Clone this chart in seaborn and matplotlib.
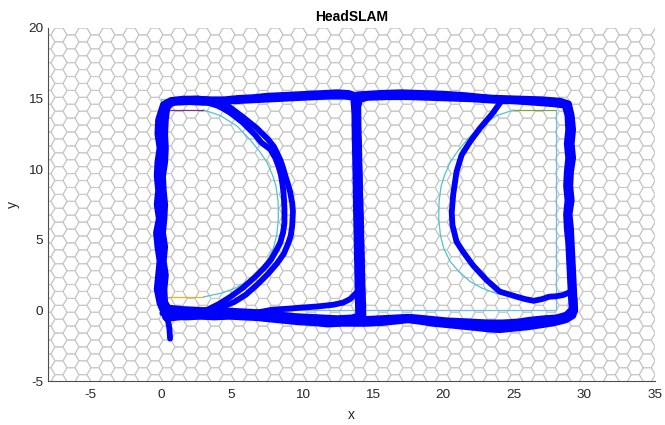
import numpy as np
import pandas as pd
import matplotlib
matplotlib.use("Agg")
import matplotlib.pyplot as plt
import seaborn as sns
from matplotlib.collections import LineCollection

# ---------------- data ----------------
title = "HeadSLAM"
x_ticks = [-5, 0, 5, 10, 15, 20, 25, 30, 35]
y_ticks = [-5, 0, 5, 10, 15, 20]
x_lim = (-8, 35)
y_lim = (-5, 20)

# pass 1: start tail, left edge up, top-left edge, middle down, bottom-left back
p1_x = [0.65, 0.6, 0.5, 0.35,
        0.3, 0.25, 0.35, 0.2, 0.3, 0.15, 0.25, 0.3, 0.2, 0.15, 0.3, 0.35, 0.3, 0.35, 0.45, 0.8,
        1.5, 2.5, 3.5, 4.5, 5.5, 6.5, 7.5, 8.5, 9.5, 10.5, 11.5, 12.5, 13.3, 13.6,
        13.7, 13.72, 13.75, 13.78, 13.8, 13.83, 13.86, 13.89, 13.92, 13.95, 13.98,
        13.3, 12.3, 11.3, 10.3, 9.3, 8.3, 7.3, 6.3, 5.3, 4.3, 3.3, 2.3, 1.3, 0.5]
p1_y = [-2.0, -1.3, -0.7, -0.2,
        0.5, 1.5, 2.5, 3.5, 4.5, 5.5, 6.5, 7.5, 8.5, 9.5, 10.5, 11.5, 12.5, 13.5, 14.3, 14.75,
        14.95, 15.0, 14.95, 14.95, 15.05, 15.1, 15.2, 15.25, 15.3, 15.35, 15.4, 15.45, 15.4, 15.3,
        14.0, 12.5, 11.0, 9.5, 8.0, 6.5, 5.0, 3.5, 2.0, 0.5, -0.55,
        -0.7, -0.72, -0.7, -0.65, -0.6, -0.5, -0.4, -0.35, -0.3, -0.3, -0.25, -0.2, -0.2, 0.1]

# pass 2: inner left D loop, back along the top and down the left edge
p2_x = [0.3, 1.0, 1.8, 2.6, 3.3, 4.1, 4.9, 5.8, 6.6, 7.3, 7.8, 8.2, 8.45, 8.65, 8.75, 8.75, 8.72, 8.68, 8.6, 8.5, 8.33, 8.1,
        7.75, 7.1, 6.7, 6.2, 5.8, 5.3, 4.9, 4.4, 4.0, 3.2, 2.3, 1.4, 0.6, 0.2, 0.0, -0.1, 0.05, 0.0, -0.15, -0.05,
        0.1, 0.0, -0.2, -0.1, 0.0, 0.1, -0.1, 0.0, 0.3]
p2_y = [-0.4, -0.3, -0.2, -0.1, 0.05, 0.45, 0.95, 1.6, 2.3, 3.0, 3.6, 4.3, 4.8, 5.5, 6.2, 7.2, 7.8, 8.4, 9.0, 9.6, 10.2, 10.8,
        11.4, 11.9, 12.4, 12.9, 13.3, 13.7, 14.0, 14.3, 14.5, 14.75, 14.85, 14.85, 14.75, 14.4, 13.3, 12.3, 11.3, 10.3, 9.3, 8.3,
        7.3, 6.3, 5.3, 4.3, 3.3, 2.3, 1.3, 0.3, -0.4]

# pass 3: outer left D loop
p3_x = [0.4, 1.3, 2.3, 3.2, 3.9, 4.6, 5.2, 6.0, 6.9, 7.6, 8.2, 8.7, 9.0, 9.2, 9.3, 9.35, 9.3, 9.15, 8.98, 8.82, 8.65, 8.48,
        8.25, 8.0, 7.6, 7.2, 6.8, 6.3, 5.8, 5.4, 5.0, 4.6, 3.6, 2.6, 1.6, 0.7, 0.15, -0.2, -0.25, -0.1, -0.25, -0.3,
        -0.2, -0.3, -0.15, -0.35, -0.25, -0.1, -0.2, -0.3, -0.1, 0.4]
p3_y = [-0.6, -0.5, -0.35, -0.2, 0.05, 0.35, 0.6, 1.1, 1.9, 2.6, 3.3, 4.0, 4.7, 5.3, 6.0, 7.0, 7.6, 8.4, 9.0, 9.5, 10.1, 10.6,
        11.1, 11.6, 12.1, 12.5, 12.9, 13.3, 13.7, 14.0, 14.3, 14.6, 14.9, 15.0, 15.0, 14.9, 14.6, 13.5, 12.5, 11.5, 10.5, 9.5,
        8.5, 7.5, 6.5, 5.5, 4.5, 3.5, 2.5, 1.5, 0.5, -0.6]

# pass 4: lower link to the middle, up, right rectangle clockwise
p4_x = [0.3, 1.5, 3.0, 4.2, 5.2, 6.3, 7.1, 7.9, 9.0, 10.0, 11.1, 12.2, 12.9, 13.4, 13.8, 14.15,
        14.12, 14.08, 14.04, 14.0, 13.96, 13.92, 13.88, 13.85, 13.85, 14.1,
        15.0, 16.5, 18.0, 19.5, 21.0, 22.5, 24.0, 25.5, 27.0, 28.3, 28.9,
        29.1, 29.2, 29.1, 29.2, 29.05, 29.0, 29.1, 28.95, 29.05, 29.1, 29.15, 29.2, 29.25, 29.3, 29.3,
        29.1, 28.6, 27.8, 27.0, 26.0, 25.0, 24.0, 23.2, 22.3, 21.3, 20.3, 19.3, 18.3, 17.5, 16.6, 15.6, 14.8, 14.3, 14.2]
p4_y = [-0.5, -0.45, -0.4, -0.35, -0.3, -0.2, -0.1, 0.05, 0.12, 0.2, 0.28, 0.4, 0.55, 0.8, 1.2, 1.6,
        3.0, 4.5, 6.0, 7.5, 9.0, 10.5, 12.0, 13.5, 14.7, 15.1,
        15.25, 15.3, 15.3, 15.25, 15.2, 15.1, 15.05, 15.0, 14.95, 14.85, 14.65,
        13.8, 12.8, 11.8, 10.8, 9.8, 8.8, 7.8, 6.8, 5.8, 4.8, 3.8, 2.8, 1.8, 0.8, 0.0,
        -0.4, -0.6, -0.75, -0.85, -1.0, -1.1, -1.15, -1.15, -1.1, -1.0, -0.9, -0.8, -0.65, -0.6, -0.7, -0.75, -0.75, -0.7, -0.2]

# pass 5: second right rectangle loop, then bottom-left back to start corner
p5_x = [14.35, 14.32, 14.28, 14.25, 14.21, 14.18, 14.14, 14.1, 14.07, 14.04, 14.0, 13.98, 14.1,
        14.6, 16.0, 17.5, 19.0, 20.5, 22.0, 23.5, 25.0, 26.5, 27.8, 28.6,
        28.8, 28.85, 28.75, 28.85, 28.75, 28.7, 28.8, 28.7, 28.75, 28.85, 28.9, 28.95, 29.0, 29.05, 29.1,
        28.7, 28.0, 27.2, 26.2, 25.2, 24.2, 23.2, 22.2, 21.2, 20.2, 19.2, 18.2, 17.5, 16.6, 15.6, 14.6,
        13.8, 12.8, 11.8, 10.8, 9.8, 8.8, 7.8, 6.8, 5.8, 4.8, 3.8, 2.8, 1.8, 0.8, 0.2]
p5_y = [-0.6, 0.5, 1.8, 3.2, 4.6, 6.0, 7.4, 8.8, 10.2, 11.6, 13.0, 14.4, 14.9,
        15.05, 15.1, 15.1, 15.05, 15.0, 14.95, 14.85, 14.8, 14.7, 14.6, 14.5,
        13.8, 12.8, 11.8, 10.8, 9.8, 8.8, 7.8, 6.8, 5.8, 4.8, 3.8, 2.8, 1.8, 0.8, 0.1,
        -0.3, -0.5, -0.55, -0.65, -0.8, -0.85, -0.85, -0.8, -0.75, -0.7, -0.6, -0.5, -0.45, -0.5, -0.55, -0.6,
        -0.75, -0.8, -0.8, -0.7, -0.6, -0.5, -0.45, -0.35, -0.3, -0.25, -0.3, -0.2, -0.25, -0.2, 0.1]

# pass 6: right D loop and long bottom return
p6_x = [13.9, 15.5, 17.0, 18.5, 20.0, 21.5, 23.0, 24.2,
        23.5, 22.6, 21.9, 21.3, 20.94, 20.7, 20.6, 20.65, 20.94, 21.4, 22.1, 23.07, 24.0, 25.2, 25.8, 26.4,
        27.0, 27.5, 28.0, 28.5, 29.0, 29.3, 29.35,
        29.2, 28.7, 27.9, 27.0, 26.0, 25.0, 24.0, 23.2, 22.3, 21.3, 20.3, 19.3, 18.3, 17.5, 16.6, 15.6, 14.6,
        13.8, 12.8, 11.8, 10.8, 9.8, 8.8, 7.8, 6.8, 5.8, 4.8, 3.8, 2.8, 1.8, 0.8, 0.1]
p6_y = [15.3, 15.4, 15.45, 15.4, 15.35, 15.25, 15.1, 14.95,
        13.96, 12.9, 11.95, 11.0, 9.82, 8.17, 6.9, 6.05, 4.87, 4.16, 3.2, 2.15, 1.33, 0.97, 0.8, 0.68,
        0.8, 0.97, 1.0, 1.09, 1.3, 0.8, 0.0,
        -0.4, -0.7, -0.9, -1.05, -1.2, -1.3, -1.4, -1.35, -1.25, -1.15, -1.05, -0.95, -0.8, -0.7, -0.8, -0.9, -0.95,
        -0.95, -0.95, -1.0, -0.9, -0.85, -0.75, -0.65, -0.55, -0.5, -0.45, -0.5, -0.45, -0.5, -0.45, -0.2]

# pass 7: inner loop round the left rectangle
p7_x = [0.5, 0.1, 0.0, 0.1, -0.05, 0.0, 0.1, -0.05, 0.05, 0.0, 0.1, -0.05, 0.05, 0.1, 0.15, 0.4,
        1.0, 2.0, 3.0, 4.0, 5.0, 6.0, 7.0, 8.0, 9.0, 10.0, 11.0, 12.0, 13.0, 13.7,
        13.9, 13.95, 14.0, 14.05, 14.1, 14.13, 14.17, 14.2, 14.24, 14.27, 14.3,
        13.5, 12.5, 11.5, 10.5, 9.5, 8.5, 7.5, 6.5, 5.5, 4.5, 3.5, 2.5, 1.5, 0.5]
p7_y = [0.2, 1.0, 2.0, 3.0, 4.0, 5.0, 6.0, 7.0, 8.0, 9.0, 10.0, 11.0, 12.0, 13.0, 14.0, 14.55,
        14.7, 14.75, 14.7, 14.7, 14.8, 14.85, 14.9, 14.95, 15.0, 15.05, 15.1, 15.15, 15.15, 15.05,
        14.2, 13.0, 11.5, 10.0, 8.5, 7.0, 5.5, 4.0, 2.5, 1.0, -0.3,
        -0.5, -0.55, -0.5, -0.45, -0.4, -0.3, -0.2, -0.1, -0.05, 0.0, 0.0, 0.05, 0.1, 0.2]

# ground truth pieces
gt_rect_x = [28.0, 28.0, 0.0, 0.0, 14.0]
gt_rect_y = [14.2, 0.0, 0.0, 15.0, 15.0]
gt_arc_l_x = [3.0, 4.4, 5.3, 6.1, 6.9, 7.5, 7.95, 8.2, 8.32, 8.3, 8.15, 7.9, 7.5, 7.0, 6.3, 5.4, 4.2, 3.0]
gt_arc_l_y = [0.95, 1.25, 1.6, 2.05, 2.75, 3.45, 4.35, 5.3, 6.5, 7.7, 8.8, 9.6, 10.5, 11.25, 12.1, 13.05, 13.8, 14.2]
gt_arc_r_x = [25.0, 23.6, 22.7, 21.9, 21.1, 20.5, 20.05, 19.8, 19.68, 19.7, 19.85, 20.1, 20.5, 21.0, 21.7, 22.6, 23.8, 25.0]
gt_arc_r_y = [0.95, 1.25, 1.6, 2.05, 2.75, 3.45, 4.35, 5.3, 6.5, 7.7, 8.8, 9.6, 10.5, 11.25, 12.1, 13.05, 13.8, 14.2]
gt_yel_x = [0.5, 3.0]
gt_yel_y = [0.95, 0.95]
gt_pur_x = [0.5, 3.0]
gt_pur_y = [14.2, 14.2]
gt_grn_x = [25.0, 28.0]
gt_grn_y = [14.2, 14.2]

# ---------------- figure ----------------
sns.set_style("white")
plt.rcParams["font.family"] = ["Liberation Sans", "DejaVu Sans"]

fig = plt.figure(figsize=(6.65, 4.25), dpi=100)
ax = fig.add_axes([48 / 665, 1 - 381 / 425, 607 / 665, 353 / 425])

# hexagonal background grid (flat-top hexagons)
R = 0.567
h = np.sqrt(3) * R
ang = np.deg2rad(np.arange(0, 361, 60))
hx, hy = R * np.cos(ang), R * np.sin(ang)
segs = []
for k in range(-12, 46):
    cx = -0.42 + 1.5 * R * k
    off = h / 2 if k % 2 == 0 else 0.0
    for j in range(-1, 29):
        cy = 20 - off - h * j
        segs.append(np.column_stack([cx + hx, cy + hy]))
lc = LineCollection(segs, colors="#c8c8c8", linewidths=0.75, zorder=0)
ax.add_collection(lc)

def frame(xs, ys, name):
    return pd.DataFrame({"x": xs, "y": ys, "pass": name, "i": range(len(xs))})

gt_col_rect = "#6cc0e6"
gt_col_arc = "#4fc4cc"
for xs, ys, col in [(gt_rect_x, gt_rect_y, gt_col_rect),
                    (gt_arc_l_x, gt_arc_l_y, gt_col_arc),
                    (gt_arc_r_x, gt_arc_r_y, gt_col_arc),
                    (gt_yel_x, gt_yel_y, "#edb120"),
                    (gt_pur_x, gt_pur_y, "#7e2f8e"),
                    (gt_grn_x, gt_grn_y, "#77ac30")]:
    sns.lineplot(data=frame(xs, ys, "gt"), x="x", y="y", sort=False, estimator=None,
                 color=col, lw=0.9, ax=ax, legend=False, zorder=2)

passes = [(p1_x, p1_y), (p2_x, p2_y), (p3_x, p3_y), (p4_x, p4_y),
          (p5_x, p5_y), (p6_x, p6_y), (p7_x, p7_y)]
traj = pd.concat([frame(xs, ys, f"p{n}") for n, (xs, ys) in enumerate(passes)],
                 ignore_index=True)
sns.lineplot(data=traj, x="x", y="y", units="pass", estimator=None, sort=False,
             color="#0000ff", lw=4.2, ax=ax, legend=False, zorder=3,
             solid_joinstyle="round", solid_capstyle="round")

ax.set_xlim(*x_lim)
ax.set_ylim(*y_lim)
ax.set_xticks(x_ticks)
ax.set_yticks(y_ticks)
ax.set_xticklabels([str(v) for v in x_ticks])
ax.set_yticklabels([str(v) for v in y_ticks])

axc = "#262626"
for s in ["top", "right"]:
    ax.spines[s].set_visible(False)
for s in ["left", "bottom"]:
    ax.spines[s].set_color("#4d4d4d")
    ax.spines[s].set_linewidth(0.8)
ax.tick_params(direction="in", length=4, width=0.7, colors="#4d4d4d",
               labelcolor=axc, labelsize=9.7)
ax.tick_params(axis="x", pad=6)
ax.tick_params(axis="y", pad=3.5)

ax.set_xlabel("x", fontsize=10, color=axc, labelpad=5)
ax.set_ylabel("y", fontsize=10, color=axc, labelpad=6)
ax.set_title(title, fontsize=10, fontweight="bold", color="black", pad=5)

fig.savefig("out.png", dpi=100)
